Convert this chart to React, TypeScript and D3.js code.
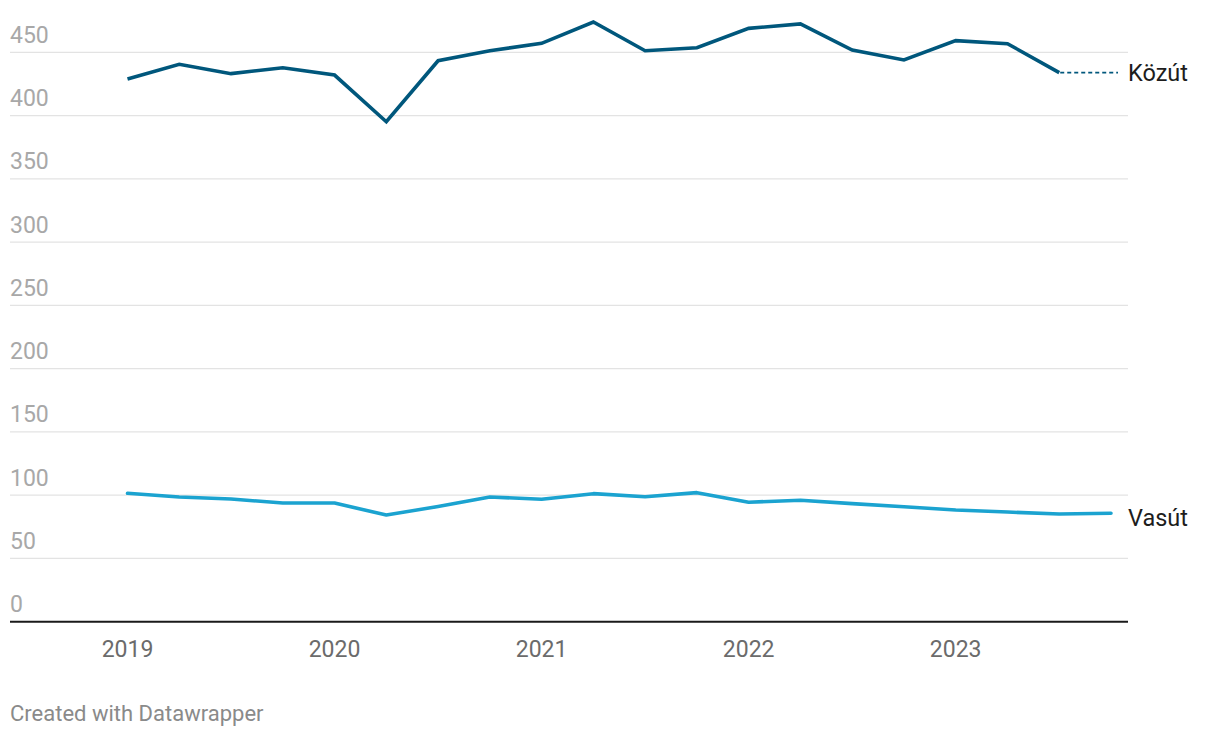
import { useRef, useEffect } from 'react';
import * as d3 from 'd3';

// quarterly values, 2019 Q1 – 2023 Q4
const QUARTERS = [
  '2019Q1', '2019Q2', '2019Q3', '2019Q4',
  '2020Q1', '2020Q2', '2020Q3', '2020Q4',
  '2021Q1', '2021Q2', '2021Q3', '2021Q4',
  '2022Q1', '2022Q2', '2022Q3', '2022Q4',
  '2023Q1', '2023Q2', '2023Q3', '2023Q4',
];
const KOZUT = [429, 440.6, 433.2, 437.9, 432.1, 395.2, 443.4, 451.3, 457.2, 474, 451.3, 453.7, 469, 472.5, 451.9, 444, 459.3, 456.9, 434, null];
const VASUT = [101.5, 98.6, 97, 93.8, 93.8, 84.3, 91, 98.6, 96.8, 101.2, 98.8, 102, 94.4, 96, 93.3, 90.9, 88.3, 86.7, 85.1, 85.7];
const Y_TICKS = [0, 50, 100, 150, 200, 250, 300, 350, 400, 450];
const YEAR_TICKS = [2019, 2020, 2021, 2022, 2023];

const W = 1220;
const H = 738;
const FONT = 'Roboto, "Noto Sans", sans-serif';
const DARK = '#00577c';
const LIGHT = '#1ba3d0';

const toX = (q: string) => +q.slice(0, 4) + (+q.slice(5) - 1) * 0.25;

export default function App() {
  const svgRef = useRef<SVGSVGElement>(null);

  useEffect(() => {
    if (!svgRef.current) return;
    const svg = d3.select(svgRef.current);
    svg.selectAll('*').remove();

    const x = d3.scaleLinear().domain([2019, 2023.75]).range([127.5, 1111]);
    const y = d3.scaleLinear().domain([0, 450]).range([621.7, 52.4]);
    const left = 10;
    const right = 1128;

    // gridlines + y labels
    const grid = svg.append('g');
    Y_TICKS.filter((t) => t > 0).forEach((t) => {
      grid.append('line')
        .attr('x1', left).attr('x2', right)
        .attr('y1', y(t)).attr('y2', y(t))
        .attr('stroke', '#e3e3e3').attr('stroke-width', 1.3);
    });
    Y_TICKS.forEach((t) => {
      grid.append('text')
        .attr('x', left).attr('y', y(t) - 9.5)
        .attr('fill', '#a8a8a8')
        .attr('font-family', FONT).attr('font-size', 23)
        .text(t);
    });

    // baseline
    svg.append('line')
      .attr('x1', left).attr('x2', right)
      .attr('y1', y(0)).attr('y2', y(0))
      .attr('stroke', '#1a1a1a').attr('stroke-width', 2);

    // x labels
    YEAR_TICKS.forEach((t) => {
      svg.append('text')
        .attr('x', x(t)).attr('y', 657)
        .attr('text-anchor', 'middle')
        .attr('fill', '#6b6b6b')
        .attr('font-family', FONT).attr('font-size', 23)
        .text(t);
    });

    const line = d3.line<[string, number | null]>()
      .defined((d) => d[1] != null)
      .x((d) => x(toX(d[0])))
      .y((d) => y(d[1] as number));

    const kData = QUARTERS.map((q, i) => [q, KOZUT[i]] as [string, number | null]);
    const vData = QUARTERS.map((q, i) => [q, VASUT[i]] as [string, number | null]);

    svg.append('path').datum(vData)
      .attr('d', line).attr('fill', 'none')
      .attr('stroke', LIGHT).attr('stroke-width', 3.6)
      .attr('stroke-linejoin', 'round').attr('stroke-linecap', 'round');

    svg.append('path').datum(kData)
      .attr('d', line).attr('fill', 'none')
      .attr('stroke', DARK).attr('stroke-width', 3.6)
      .attr('stroke-linejoin', 'miter').attr('stroke-linecap', 'butt');

    // Közút leader line + label
    const kLast = kData.filter((d) => d[1] != null).slice(-1)[0];
    svg.append('line')
      .attr('x1', x(toX(kLast[0])) + 1).attr('x2', 1118)
      .attr('y1', y(kLast[1] as number)).attr('y2', y(kLast[1] as number))
      .attr('stroke', DARK).attr('stroke-width', 1.6)
      .attr('stroke-dasharray', '4,3');
    svg.append('text')
      .attr('x', 1128).attr('y', y(kLast[1] as number))
      .attr('dy', '0.35em')
      .attr('fill', '#1d1d1d')
      .attr('font-family', FONT).attr('font-size', 23.5)
      .text('Közút');

    const vLast = vData[vData.length - 1];
    svg.append('text')
      .attr('x', 1128).attr('y', y(vLast[1] as number) + 4.5)
      .attr('dy', '0.35em')
      .attr('fill', '#1d1d1d')
      .attr('font-family', FONT).attr('font-size', 23.5)
      .text('Vasút');

    // footer
    svg.append('text')
      .attr('x', left).attr('y', 721)
      .attr('fill', '#8a8a8a')
      .attr('font-family', FONT).attr('font-size', 22)
      .text('Created with Datawrapper');
  }, []);

  return (
    <svg
      ref={svgRef}
      width={W}
      height={H}
      style={{ position: 'absolute', top: 0, left: 0, background: '#fff' }}
    />
  );
}
